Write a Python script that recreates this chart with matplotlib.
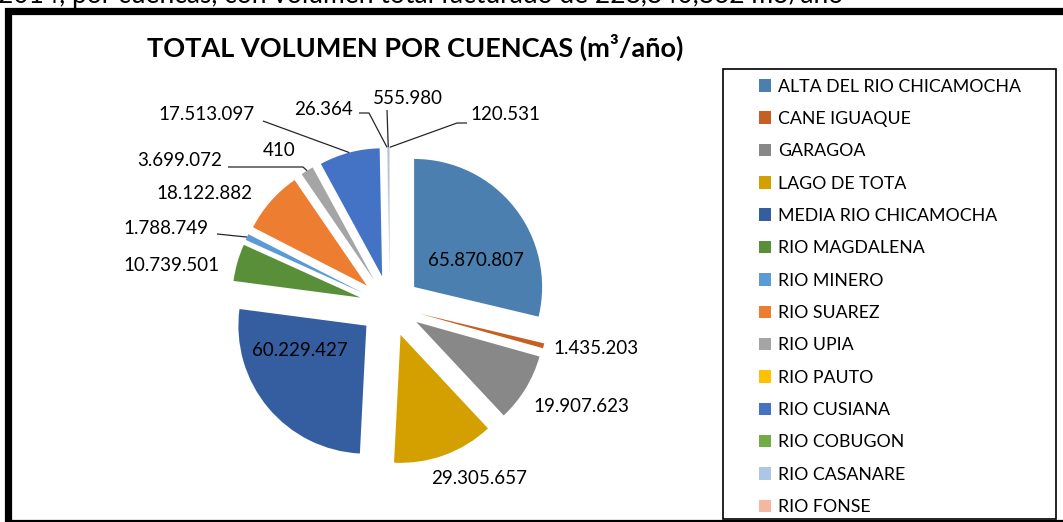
import matplotlib.pyplot as plt
from matplotlib.patches import Rectangle
import numpy as np

plt.rcParams['font.family'] = ['Lato', 'DejaVu Sans']

# Datos: volumen facturado por cuenca (m3/año)
cuencas = ['ALTA DEL RIO CHICAMOCHA', 'CANE IGUAQUE', 'GARAGOA', 'LAGO DE TOTA',
           'MEDIA RIO CHICAMOCHA', 'RIO MAGDALENA', 'RIO MINERO', 'RIO SUAREZ',
           'RIO UPIA', 'RIO PAUTO', 'RIO CUSIANA', 'RIO COBUGON', 'RIO CASANARE',
           'RIO FONSE']
volumen = [65870807, 1435203, 19907623, 29305657, 60229427, 10739501, 1788749,
           18122882, 3699072, 410, 17513097, 26364, 555980, 120531]
colores = ['#4A7FB0', '#C55F24', '#888888', '#D4A000', '#355EA1', '#5A8F3A',
           '#5B9BD5', '#ED7D31', '#A5A5A5', '#FFC000', '#4472C4', '#70AD47',
           '#AEC6E6', '#F3B8A0']

W, H = 1063, 522
cx, cy, R = 390, 306, 128   # centro y radio del pastel en pixeles
half = 200

fig = plt.figure(figsize=(W / 100, H / 100), dpi=100)

# texto recortado de la página
fig.text(-2 / W, 1 - 3.5 / H,
         '2014, por cuencas, con volumen total facturado de 228,840,862 m3/año',
         fontsize=19, va='baseline', ha='left', color='black')

# borde grueso del gráfico
fig.patches.append(Rectangle((8 / W, 1 - 522.5 / H), 1.1, (522.5 - 10.5) / H,
                             transform=fig.transFigure, fill=False,
                             ec='black', lw=5.2))

ax = fig.add_axes([(cx - half) / W, (H - cy - half) / H, 2 * half / W, 2 * half / H])
explode = [0.24] * len(volumen)
wedges, _ = ax.pie(volumen, colors=colores, startangle=90, counterclock=False,
                   explode=explode, radius=1, wedgeprops=dict(linewidth=0))
ax.set_xlim(-half / R, half / R)
ax.set_ylim(-half / R, half / R)
ax.set_aspect('equal')


def px(x, y):
    # pixel de la imagen -> coordenadas del pastel
    return (x - cx) / R, (cy - y) / R


# posición de cada etiqueta (pixeles) y alineación
pos_etiqueta = [(476, 261, 'center'), (553, 349, 'left'), (533, 406, 'left'),
                (479, 478, 'center'), (300, 350, 'center'), (220, 266, 'right'),
                (208, 229, 'right'), (252, 194, 'right'), (222, 161, 'right'),
                (279, 151, 'center'), (255, 115, 'right'), (353, 110, 'right'),
                (408, 99, 'center'), (470, 115, 'left')]

# guías: puntos cerca de la etiqueta; el último punto sale de la cuña
guias = {6: [(217, 234)],
         8: [(228, 167), (303, 167)],
         10: [(263, 121)],
         11: [(359, 113), (369, 113)],
         12: [(387, 110)],
         13: [(467, 123), (457, 123)]}

for i, (w, v) in enumerate(zip(wedges, volumen)):
    texto = f'{v:,}'.replace(',', '.')
    x, y, ha = pos_etiqueta[i]
    ax.text(*px(x, y), texto, ha=ha, va='center', fontsize=13.5, color='black')
    if i in guias:
        th = np.deg2rad((w.theta1 + w.theta2) / 2)
        xe = w.center[0] + w.r * np.cos(th)
        ye = w.center[1] + w.r * np.sin(th)
        pts = [px(*p) for p in guias[i]] + [(xe, ye)]
        ax.plot([p[0] for p in pts], [p[1] for p in pts], color='#262626',
                lw=0.9, solid_capstyle='butt')

fig.text(415 / W, 1 - 47 / H, 'TOTAL VOLUMEN POR CUENCAS (m³/año)',
         fontsize=19.5, fontweight='bold', ha='center', va='center')

# leyenda con marco propio
fig.patches.append(Rectangle((723 / W, 1 - 519 / H), (1056 - 723) / W, (519 - 69) / H,
                             transform=fig.transFigure, fill=False,
                             ec='black', lw=1.2))
fig.legend(wedges, cuencas, loc='upper left', bbox_to_anchor=(759 / W, 1 - 78.5 / H),
           frameon=False, fontsize=12.8, handlelength=0.7, handleheight=0.7,
           handletextpad=0.35, labelspacing=0.92, borderpad=0, borderaxespad=0)

fig.savefig('out.png', dpi=100)
